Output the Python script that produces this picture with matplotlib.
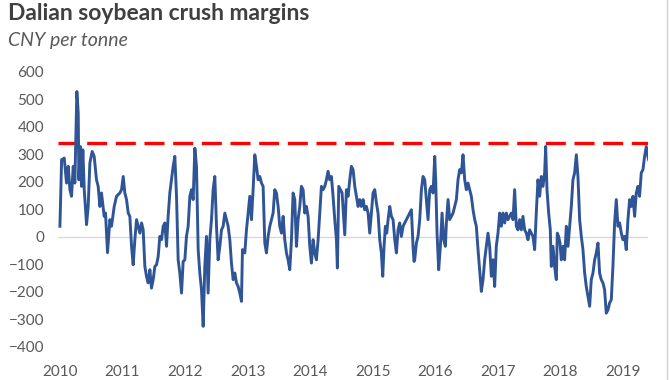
import matplotlib.pyplot as plt
from matplotlib.lines import Line2D


# decimal year, crush margin (CNY/t)
years = [
    2010.00, 2010.01, 2010.027, 2010.069, 2010.106, 2010.133, 2010.160, 2010.186, 2010.213, 2010.239,
    2010.271, 2010.293, 2010.303, 2010.325, 2010.346, 2010.367, 2010.389, 2010.426, 2010.452, 2010.479,
    2010.516, 2010.548, 2010.585, 2010.612, 2010.639, 2010.665, 2010.708, 2010.729, 2010.761, 2010.799,
    2010.825, 2010.868, 2010.905, 2010.958, 2010.985, 2011.012, 2011.038, 2011.065, 2011.092, 2011.118,
    2011.145, 2011.171, 2011.198, 2011.225, 2011.251, 2011.278, 2011.305, 2011.331, 2011.358, 2011.384,
    2011.411, 2011.438, 2011.464, 2011.491, 2011.518, 2011.544, 2011.571, 2011.597, 2011.624, 2011.651,
    2011.677, 2011.704, 2011.730, 2011.757, 2011.784, 2011.810, 2011.837,
    2011.864, 2011.890, 2011.917, 2011.944, 2011.970, 2011.997, 2012.023, 2012.050, 2012.077, 2012.103,
    2012.130, 2012.157, 2012.183, 2012.210, 2012.236, 2012.263, 2012.290, 2012.316, 2012.343, 2012.369,
    2012.396, 2012.423, 2012.449, 2012.476, 2012.503, 2012.529, 2012.556, 2012.583, 2012.609, 2012.636,
    2012.662, 2012.689, 2012.716, 2012.742, 2012.769, 2012.796, 2012.822, 2012.849, 2012.875, 2012.902,
    2012.918, 2012.955, 2012.982, 2013.009, 2013.035, 2013.062, 2013.088, 2013.115, 2013.142, 2013.168,
    2013.195, 2013.222, 2013.248, 2013.275, 2013.301, 2013.328, 2013.355, 2013.381, 2013.408, 2013.434,
    2013.461, 2013.488, 2013.514, 2013.541, 2013.568, 2013.594, 2013.621, 2013.647, 2013.674, 2013.701,
    2013.727, 2013.754,
    2013.781, 2013.807, 2013.834, 2013.860, 2013.887, 2013.914, 2013.940, 2013.967, 2013.994, 2014.020,
    2014.047, 2014.073, 2014.100, 2014.127, 2014.153, 2014.180, 2014.207, 2014.233, 2014.260, 2014.286,
    2014.313, 2014.340, 2014.366, 2014.393, 2014.420, 2014.435, 2014.457, 2014.483, 2014.510, 2014.537,
    2014.553, 2014.579, 2014.606, 2014.633, 2014.659, 2014.686, 2014.713, 2014.739, 2014.766, 2014.792,
    2014.819, 2014.846, 2014.872, 2014.899, 2014.926, 2014.952, 2014.979, 2015.005, 2015.032, 2015.059,
    2015.085, 2015.112, 2015.138, 2015.160, 2015.181, 2015.202, 2015.224, 2015.245, 2015.272, 2015.298,
    2015.325, 2015.352, 2015.378, 2015.405, 2015.431, 2015.458, 2015.485, 2015.511, 2015.538, 2015.565,
    2015.591, 2015.618, 2015.644, 2015.660, 2015.671,
    2015.698, 2015.724, 2015.751, 2015.778, 2015.804, 2015.831, 2015.857, 2015.884, 2015.911, 2015.937,
    2015.964, 2015.991, 2016.006, 2016.028, 2016.054, 2016.081, 2016.108, 2016.134, 2016.161, 2016.177,
    2016.204, 2016.230, 2016.257, 2016.284, 2016.310, 2016.337, 2016.363, 2016.390, 2016.417, 2016.443,
    2016.470, 2016.496, 2016.523, 2016.550, 2016.576, 2016.603, 2016.630, 2016.656, 2016.683, 2016.709,
    2016.736, 2016.763, 2016.789, 2016.816, 2016.842, 2016.869, 2016.896, 2016.922, 2016.949, 2016.975,
    2017.002, 2017.029, 2017.055, 2017.082, 2017.109, 2017.135, 2017.162, 2017.188, 2017.215, 2017.242,
    2017.268, 2017.295, 2017.321, 2017.348, 2017.375, 2017.401, 2017.428, 2017.455, 2017.481, 2017.508,
    2017.534, 2017.561, 2017.588,
    2017.614, 2017.641, 2017.668, 2017.694, 2017.721, 2017.748, 2017.764, 2017.785, 2017.812, 2017.838,
    2017.854, 2017.881, 2017.907, 2017.934, 2017.950, 2017.971, 2017.993, 2018.014, 2018.041, 2018.067,
    2018.094, 2018.121, 2018.147, 2018.174, 2018.200, 2018.227, 2018.254, 2018.280, 2018.307, 2018.334,
    2018.360, 2018.387, 2018.413, 2018.440, 2018.467, 2018.493, 2018.520, 2018.547, 2018.573, 2018.600,
    2018.626, 2018.653, 2018.680, 2018.706, 2018.733, 2018.760, 2018.786, 2018.813, 2018.839, 2018.866,
    2018.893, 2018.919, 2018.946, 2018.973, 2018.999, 2019.026, 2019.052, 2019.079, 2019.106, 2019.132,
    2019.159, 2019.186, 2019.212, 2019.239, 2019.265, 2019.292, 2019.319, 2019.345, 2019.372, 2019.398,
    2019.410,
]

margins = [
    38, 122, 280, 286, 195, 256, 171, 147, 256, 195,
    528, 450, 207, 328, 183, 316, 171, 44, 110, 268,
    310, 292, 207, 183, 110, 159, 74, 86, -58, 62,
    38, 110, 147, 159, 171, 219, 159, 135, 86, 74,
    -35, -102, -11, 62, 38, 13, 50, 25, -108, -144,
    -168, -120, -187, -156, -108, -102, -72, 1, -11, 38,
    50, -35, 74, 159, 207, 256, 292,
    147, -84, -132, -205, -90, -84, 1, 38, 147, 171,
    135, 322, 256, -47, -132, -193, -326, -108, 1, -205,
    -11, 62, 171, 219, 38, -84, -35, 25, 38, 86,
    62, 38, -11, -96, -156, -132, -168, -181, -205, -235,
    -47, -59, 25, 86, 147, 62, 171, 298, 256, 207,
    219, 195, 183, -23, -59, 1, 38, 62, 86, 171,
    159, 110, 38, 13, 74, -11, -59, -84, -120, -11,
    159, 135,
    -35, 62, 110, 183, 171, 86, 110, 74, -35, -96,
    -11, -59, -84, -11, 86, 183, 171, 183, 207, 238,
    207, 219, 147, 62, -11, -114, 183, 171, 159, 62,
    7, 171, 147, 207, 256, 244, 183, 147, 110, 135,
    110, 135, 98, 110, 86, 13, 86, 159, 171, 122,
    86, -11, -59, -144, -35, 38, 13, 62, 110, 74,
    62, -11, -59, 25, 50, 1, 38, 50, 62, 74,
    86, 98, -35, -90, -84,
    -23, 1, 62, 171, 219, 207, 135, 62, 171, 183,
    159, 292, 207, 13, -120, -35, 86, -11, -35, 50,
    135, 62, 74, 86, 110, 135, 207, 244, 232, 298,
    207, 171, 195, 171, 147, 98, 62, 38, -47, -120,
    -199, -156, -84, -35, 13, -35, -144, -84, -181, -35,
    13, 86, 38, 86, 50, 86, 62, 74, 86, 62,
    171, 38, 25, 62, 25, 74, 25, 13, -11, 25,
    13, 1, -47,
    86, 207, 147, 219, 183, 232, 328, 171, 86, 25,
    -108, -35, -108, -156, 13, 1, -23, -84, -35, -84,
    38, -35, 38, 110, 207, 232, 298, 219, 62, 1,
    -47, -132, -181, -217, -253, -156, -132, -84, -59, -23,
    -132, -156, -168, -193, -278, -266, -241, -229, -108, 50,
    135, 38, 50, 13, -11, 1, -47, 62, 135, 110,
    147, 74, 159, 183, 147, 232, 244, 292, 328, 292,
    280,
]

threshold = 340
year_ticks = list(range(2010, 2020))
y_ticks = list(range(-400, 700, 100))

plt.rcParams["font.family"] = ["Lato", "DejaVu Sans"]

fig = plt.figure(figsize=(6.7, 3.8), dpi=100)
ax = fig.add_axes([0.0866, 0.0876, 0.8806, 0.7237])

ax.axhline(0, color="#d9d9d9", lw=1, zorder=1)
ax.plot(years, margins, color="#2f5597", lw=2.1, zorder=3, solid_joinstyle="round")
ax.axhline(threshold, color="#ff0000", lw=2.4, dashes=(6, 2.6),
           dash_capstyle="butt", zorder=2)

ax.set_xlim(2009.97, 2019.40)
ax.set_ylim(-400, 600)
ax.set_xticks(year_ticks)
ax.set_xticklabels([str(y) for y in year_ticks])
ax.set_yticks(y_ticks)
for s in ax.spines.values():
    s.set_visible(False)
ax.tick_params(axis="both", length=0, labelsize=11, labelcolor="#595959")
ax.tick_params(axis="y", pad=10)
ax.tick_params(axis="x", pad=13)

fig.text(0.012, 0.965, "Dalian soybean crush margins", fontsize=16.5, fontweight="bold",
         color="#404040", va="center", ha="left")
fig.text(0.012, 0.893, "CNY per tonne", fontsize=14, fontstyle="italic",
         color="#595959", va="center", ha="left")

fig.add_artist(Line2D([0.996, 0.996], [0, 1], transform=fig.transFigure,
                      color="#d0d0d0", lw=1))

fig.savefig("out.png", dpi=100)
